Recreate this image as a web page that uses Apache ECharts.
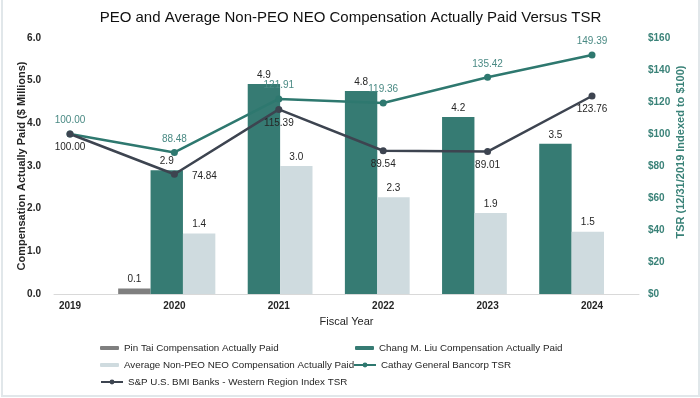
<!DOCTYPE html>
<html>
<head>
<meta charset="utf-8">
<script src="https://cdn.jsdelivr.net/npm/echarts@6/dist/echarts.min.js"></script>
<style>
  html, body { margin: 0; padding: 0; background: #fff; }
  #main { position: absolute; left: 1px; top: 0; width: 695px; height: 395px; border: 2px solid #e1e7ea; border-top: none; }
</style>
</head>
<body>
<div id="main"></div>
<script>
  // values
  const years = ['2019', '2020', '2021', '2022', '2023', '2024']
  const pinTai = [null, 0.13, null, null, null, null]
  const changLiu = [null, 2.9, 4.92, 4.76, 4.15, 3.52]
  const avgNonPeo = [null, 1.42, 3.0, 2.27, 1.9, 1.46]
  const cathayTsr = [100.00, 88.48, 121.91, 119.36, 135.42, 149.39]
  const spTsr = [100.00, 74.84, 115.39, 89.54, 89.01, 123.76]
  const compTicks = { min: 0, max: 6, interval: 1 }
  const tsrTicks = { min: 0, max: 160, interval: 20 }

  const font = "'Liberation Sans', Arial, sans-serif"
  const teal = '#367b73'
  const tealText = '#3a8278'
  const dark = '#3d4450'

  const chart = echarts.init(document.getElementById('main'))

  const barLabel = {
    show: true,
    position: 'top',
    distance: 4,
    fontSize: 10,
    fontFamily: font,
    color: '#262626',
    formatter: p => p.value == null ? '' : p.value.toFixed(1)
  }

  const legendBase = {
    textStyle: { fontSize: 9.8, fontFamily: font, color: '#262626' },
    padding: 0,
    itemGap: 4
  }

  chart.setOption({
    animation: false,
    title: {
      text: 'PEO and Average Non-PEO NEO Compensation Actually Paid Versus TSR',
      left: 'center',
      top: 5,
      textStyle: { fontSize: 15, fontWeight: 'normal', fontFamily: font, color: '#111' }
    },
    legend: [
      Object.assign({ left: 97, top: 343, data: ['Pin Tai Compensation Actually Paid'], itemWidth: 19, itemHeight: 4 }, legendBase),
      Object.assign({ left: 352, top: 343, data: ['Chang M. Liu Compensation Actually Paid'], itemWidth: 19, itemHeight: 4 }, legendBase),
      Object.assign({ left: 97, top: 360, data: ['Average Non-PEO NEO Compensation Actually Paid'], itemWidth: 19, itemHeight: 4 }, legendBase),
      Object.assign({ left: 350, top: 360, data: ['Cathay General Bancorp TSR'], itemWidth: 22, itemHeight: 6 }, legendBase),
      Object.assign({ left: 97, top: 377, data: ['S&P U.S. BMI Banks - Western Region Index TSR'], itemWidth: 22, itemHeight: 6 }, legendBase)
    ],
    grid: [
      // bars
      { left: 18, right: 94, top: 38, bottom: 101 },
      // lines
      { left: 67, right: 106, top: 38, bottom: 101 },
      // visible axes
      { left: 51, right: 59, top: 38, bottom: 101 }
    ],
    xAxis: [
      { gridIndex: 0, type: 'category', data: years, show: false },
      {
        gridIndex: 1, type: 'category', data: years, boundaryGap: false,
        axisLine: { show: false }, axisTick: { show: false },
        axisLabel: { margin: 7, fontSize: 10, fontWeight: 'bold', fontFamily: font, color: '#262626' }
      },
      {
        gridIndex: 2, type: 'category', data: years,
        axisLine: { lineStyle: { color: '#d9d9d9', width: 1 } },
        axisTick: { show: false }, axisLabel: { show: false },
        name: 'Fiscal Year', nameLocation: 'middle', nameGap: 22,
        nameTextStyle: { fontSize: 11, fontFamily: font, color: '#262626' }
      }
    ],
    yAxis: [
      Object.assign({ gridIndex: 0, type: 'value', show: false }, compTicks),
      Object.assign({ gridIndex: 1, type: 'value', show: false }, tsrTicks),
      Object.assign({
        gridIndex: 2, type: 'value', position: 'left',
        splitLine: { show: false }, axisLine: { show: false }, axisTick: { show: false },
        axisLabel: { margin: 13, fontSize: 10, fontWeight: 'bold', fontFamily: font, color: '#262626', formatter: v => v.toFixed(1) },
        name: 'Compensation Actually Paid ($ Millions)', nameLocation: 'middle', nameGap: 27, nameMoveOverlap: false,
        nameTextStyle: { fontSize: 11, fontWeight: 'bold', fontFamily: font, color: '#262626' }
      }, compTicks),
      Object.assign({
        gridIndex: 2, type: 'value', position: 'right',
        splitLine: { show: false }, axisLine: { show: false }, axisTick: { show: false },
        axisLabel: { margin: 9, fontSize: 10, fontWeight: 'bold', fontFamily: font, color: tealText, formatter: v => '$' + v },
        name: 'TSR (12/31/2019 Indexed to $100)', nameLocation: 'middle', nameGap: 36, nameMoveOverlap: false,
        nameTextStyle: { fontSize: 11, fontWeight: 'bold', fontFamily: font, color: tealText, padding: [0, 0, 0, 28] }
      }, tsrTicks)
    ],
    series: [
      {
        name: 'Pin Tai Compensation Actually Paid', type: 'bar', xAxisIndex: 0, yAxisIndex: 0,
        data: pinTai, barGap: '0%', barCategoryGap: '0%',
        itemStyle: { color: '#7f7f7f' }, label: barLabel
      },
      {
        name: 'Chang M. Liu Compensation Actually Paid', type: 'bar', xAxisIndex: 0, yAxisIndex: 0,
        data: changLiu, barGap: '0%', barCategoryGap: '0%',
        itemStyle: { color: teal }, label: barLabel
      },
      {
        name: 'Average Non-PEO NEO Compensation Actually Paid', type: 'bar', xAxisIndex: 0, yAxisIndex: 0,
        data: avgNonPeo, barGap: '0%', barCategoryGap: '0%',
        itemStyle: { color: '#cfdbdf' }, label: barLabel
      },
      {
        name: 'Cathay General Bancorp TSR', type: 'line', xAxisIndex: 1, yAxisIndex: 1,
        data: cathayTsr, z: 5,
        symbol: 'circle', symbolSize: 7,
        lineStyle: { color: '#2e786f', width: 2.5 }, itemStyle: { color: '#2e786f' },
        label: {
          show: true, position: 'top', distance: 5, fontSize: 10, fontFamily: font, color: '#4a8a84',
          formatter: p => p.value.toFixed(2)
        }
      },
      {
        name: 'S&P U.S. BMI Banks - Western Region Index TSR', type: 'line', xAxisIndex: 1, yAxisIndex: 1,
        data: spTsr, z: 5,
        symbol: 'circle', symbolSize: 7,
        lineStyle: { color: dark, width: 2.5 }, itemStyle: { color: dark },
        label: {
          show: true, position: 'bottom', distance: 5, fontSize: 10, fontFamily: font, color: '#262626',
          formatter: p => p.value.toFixed(2)
        },
        labelLayout: p => p.dataIndex === 1 ? { dx: 30, dy: -12 } : {}
      }
    ]
  })
</script>
</body>
</html>
